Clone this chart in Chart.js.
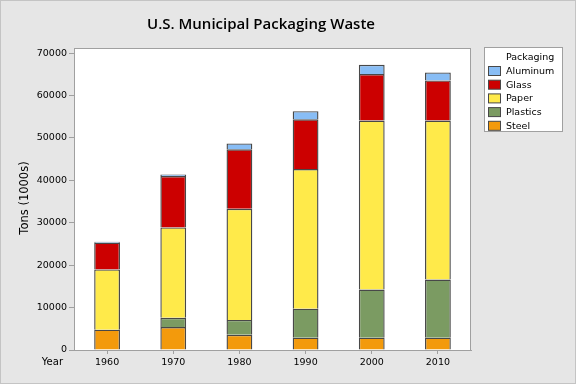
<!DOCTYPE html>
<html>
<head>
<meta charset="utf-8">
<script src="https://cdn.jsdelivr.net/npm/chart.js@4.4.0/dist/chart.umd.min.js"></script>
<style>
  html, body { margin: 0; padding: 0; background: #e6e6e6; }
  #wrap { width: 576px; height: 384px; }
</style>
</head>
<body>
<div id="wrap"><canvas id="wasteChart" width="576" height="384"></canvas></div>
<script>
const years = ['1960', '1970', '1980', '1990', '2000', '2010'];
const steel = [4800, 5400, 3600, 2900, 2900, 2900];
const plastics = [0, 2200, 3500, 6850, 11350, 13700];
const paper = [14200, 21300, 26200, 32900, 39850, 37500];
const glass = [6300, 12100, 14000, 11750, 10950, 9450];
const aluminum = [250, 400, 1400, 1900, 2200, 1900];
const yTicks = [0, 10000, 20000, 30000, 40000, 50000, 60000, 70000];

const FONT = 'DejaVu Sans';
const edgeColor = '#484848';

const series = [
    { label: 'Steel', data: steel, color: '#f39a0c' },
    { label: 'Plastics', data: plastics, color: '#7b9b62' },
    { label: 'Paper', data: paper, color: '#ffea4a' },
    { label: 'Glass', data: glass, color: '#cc0000' },
    { label: 'Aluminum', data: aluminum, color: '#88bdf5' },
];

// background, frame, title and legend box
const frame = {
    id: 'frame',
    beforeDraw(chart) {
        const ctx = chart.ctx;
        const a = chart.chartArea;
        ctx.save();
        ctx.fillStyle = '#e6e6e6';
        ctx.fillRect(0, 0, chart.width, chart.height);
        ctx.strokeStyle = '#c4c4c4';
        ctx.lineWidth = 1;
        ctx.strokeRect(0.5, 0.5, chart.width - 1, chart.height - 1);
        ctx.fillStyle = '#ffffff';
        ctx.fillRect(a.left, a.top, a.right - a.left, a.bottom - a.top);
        ctx.restore();
    },
    afterDraw(chart) {
        const ctx = chart.ctx;
        const a = chart.chartArea;
        ctx.save();
        ctx.strokeStyle = '#a0a0a0';
        ctx.lineWidth = 1;
        ctx.strokeRect(a.left + 0.5, a.top + 0.5, a.right - a.left - 1, a.bottom - a.top);

        ctx.fillStyle = '#000';
        ctx.textAlign = 'center';
        ctx.textBaseline = 'middle';
        ctx.font = '600 15px "Open Sans"';
        ctx.fillText('U.S. Municipal Packaging Waste', 261, 25);

        ctx.font = '10px ' + FONT;
        ctx.textAlign = 'right';
        ctx.fillText('Year', 63, 362);

        ctx.save();
        ctx.translate(25, 198);
        ctx.rotate(-Math.PI / 2);
        ctx.textAlign = 'center';
        ctx.font = '11.5px ' + FONT;
        ctx.fillText('Tons (1000s)', 0, 0);
        ctx.restore();

        // legend
        ctx.fillStyle = '#ffffff';
        ctx.fillRect(484.5, 47.5, 78, 84);
        ctx.strokeStyle = '#a0a0a0';
        ctx.strokeRect(484.5, 47.5, 78, 84);
        ctx.fillStyle = '#000';
        ctx.textAlign = 'left';
        ctx.font = '9.5px ' + FONT;
        ctx.fillText('Packaging', 506, 57.5);
        const items = chart.data.datasets.slice().reverse();
        items.forEach((ds, i) => {
            const y = 71 + i * 13.7;
            ctx.fillStyle = ds.backgroundColor;
            ctx.fillRect(488.5, y - 4.5, 12, 9);
            ctx.strokeStyle = edgeColor;
            ctx.strokeRect(488.5, y - 4.5, 12, 9);
            ctx.fillStyle = '#000';
            ctx.fillText(ds.label, 506, y + 0.5);
        });
        ctx.restore();
    }
};

new Chart(document.getElementById('wasteChart'), {
    type: 'bar',
    data: {
        labels: years,
        datasets: series.map(s => ({
            label: s.label,
            data: s.data,
            backgroundColor: s.color,
            borderColor: edgeColor,
            borderWidth: 1.4,
            borderSkipped: 'start',
            barPercentage: 0.39,
            categoryPercentage: 1,
        })),
    },
    options: {
        responsive: false,
        animation: false,
        layout: { padding: { top: 48, right: 105, bottom: 0, left: 0 } },
        plugins: {
            legend: { display: false },
            title: { display: false },
            tooltip: { enabled: false },
        },
        scales: {
            x: {
                stacked: true,
                offset: true,
                grid: { offset: false, drawOnChartArea: false, drawTicks: true, tickLength: 4, color: '#a0a0a0' },
                border: { color: '#a0a0a0' },
                ticks: { color: '#000', font: { family: FONT, size: 9.5 }, padding: 3 },
                afterFit: s => { s.height = 34; },
            },
            y: {
                stacked: true,
                min: 0,
                max: 71200,
                afterBuildTicks: s => { s.ticks = yTicks.map(v => ({ value: v })); },
                grid: { drawOnChartArea: false, drawTicks: true, tickLength: 5, color: '#a0a0a0' },
                border: { color: '#a0a0a0' },
                ticks: { color: '#000', font: { family: FONT, size: 9.5 }, padding: 2, callback: v => String(v) },
                afterFit: s => { s.width = 74; },
            },
        },
    },
    plugins: [frame],
});
</script>
</body>
</html>
